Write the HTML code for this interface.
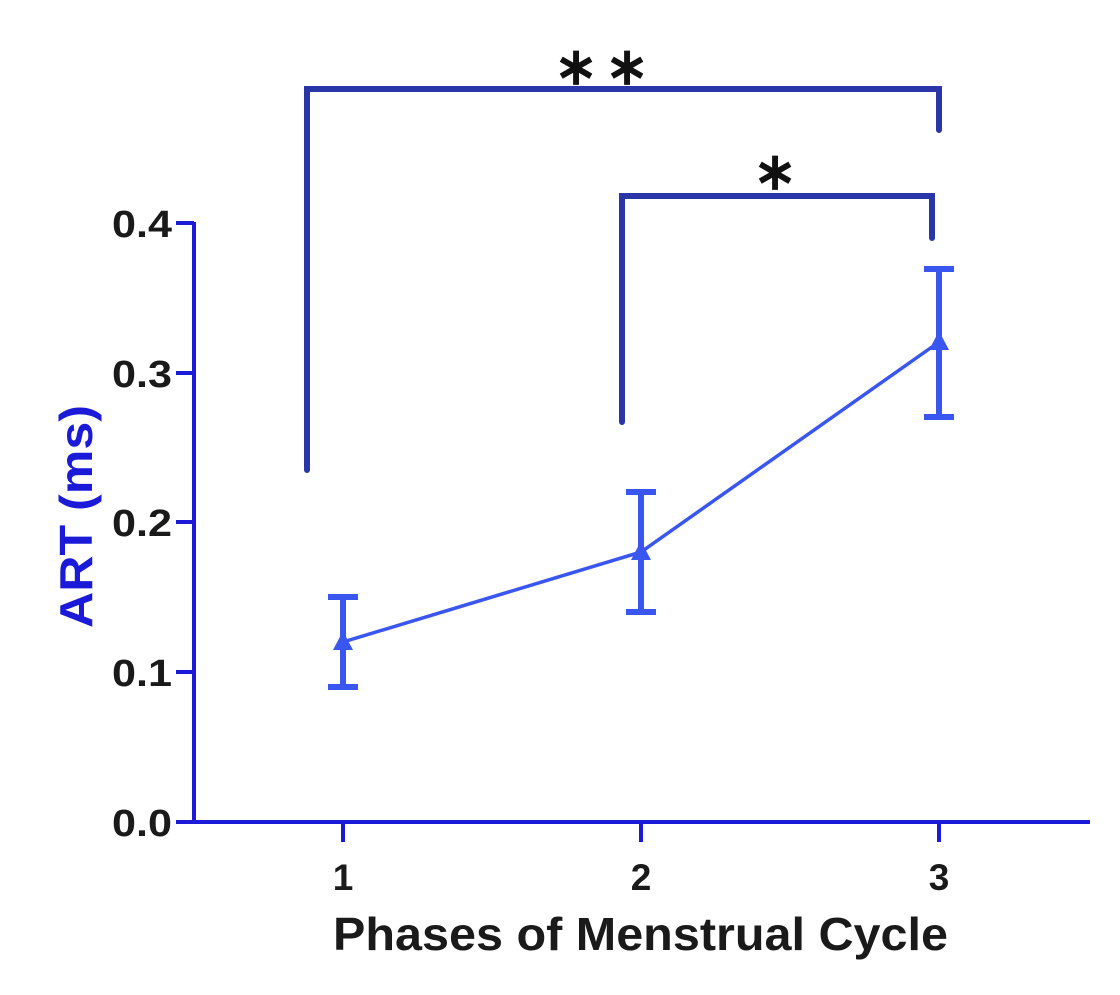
<!DOCTYPE html>
<html><head><style>body{margin:0;background:#fff}</style></head><body>
<svg width="1120" height="990" xmlns="http://www.w3.org/2000/svg" font-family="Liberation Sans, Arial, sans-serif" font-weight="bold">
<rect width="1120" height="990" fill="#fff"/>
<g stroke="#1a1ad8" stroke-width="4" fill="none">
<line x1="194" y1="222" x2="194" y2="824"/>
<line x1="178" y1="822" x2="1090" y2="822"/>
<line x1="176" y1="223" x2="194" y2="223"/>
<line x1="176" y1="373" x2="194" y2="373"/>
<line x1="176" y1="522" x2="194" y2="522"/>
<line x1="176" y1="672" x2="194" y2="672"/>
<line x1="176" y1="822" x2="194" y2="822"/>
<line x1="343" y1="822" x2="343" y2="842"/>
<line x1="641" y1="822" x2="641" y2="842"/>
<line x1="939" y1="822" x2="939" y2="842"/>
</g>
<g font-size="38" fill="#1a1a1a" text-anchor="end">
<text x="172" y="237" textLength="60" lengthAdjust="spacingAndGlyphs">0.4</text>
<text x="172" y="387" textLength="60" lengthAdjust="spacingAndGlyphs">0.3</text>
<text x="172" y="536" textLength="60" lengthAdjust="spacingAndGlyphs">0.2</text>
<text x="172" y="686" textLength="60" lengthAdjust="spacingAndGlyphs">0.1</text>
<text x="172" y="836" textLength="60" lengthAdjust="spacingAndGlyphs">0.0</text>
</g>
<g font-size="37" fill="#1a1a1a" text-anchor="middle">
<text x="343" y="890">1</text>
<text x="641" y="890">2</text>
<text x="939" y="890">3</text>
</g>
<text x="333" y="950" font-size="46" fill="#1a1a1a" textLength="615" lengthAdjust="spacingAndGlyphs">Phases of Menstrual Cycle</text>
<text transform="translate(92,628) rotate(-90)" font-size="46" fill="#1a1ad8" textLength="223" lengthAdjust="spacingAndGlyphs">ART (ms)</text>
<g stroke="#2a36a8" stroke-width="6" fill="none" stroke-linecap="round">
<polyline points="307,470 307,89 939,89 939,130"/>
<polyline points="622,422 622,196 932,196 932,238"/>
</g>
<g font-size="52" fill="#111" text-anchor="middle" font-weight="bold">
<text x="576" y="84">∗</text>
<text x="627" y="84">∗</text>
<text x="775" y="189">∗</text>
</g>
<g stroke="#3a56f0" fill="none">
<polyline points="343,642 641,552 939,342" stroke-width="3.5"/>
<g stroke-width="6">
<line x1="343" y1="597" x2="343" y2="687"/>
<line x1="641" y1="492" x2="641" y2="612"/>
<line x1="939" y1="267" x2="939" y2="417"/>
<line x1="328" y1="597" x2="358" y2="597"/><line x1="328" y1="687" x2="358" y2="687"/>
<line x1="626" y1="492" x2="656" y2="492"/><line x1="626" y1="612" x2="656" y2="612"/>
<line x1="924" y1="269" x2="954" y2="269"/><line x1="924" y1="417" x2="954" y2="417"/>
</g>
</g>
<g fill="#3a56f0">
<polygon points="343,631 333,650 353,650"/>
<polygon points="641,541 631,560 651,560"/>
<polygon points="939,331 929,350 949,350"/>
</g>
</svg>
</body></html>
